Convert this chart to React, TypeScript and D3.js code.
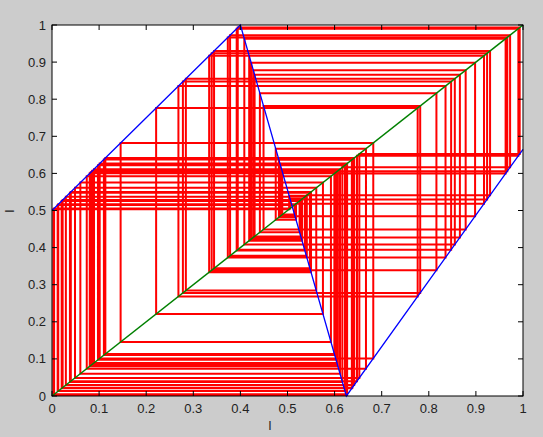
import React from "react";
import * as d3 from "d3";

// piecewise-linear map
const mapX = [0, 0.4, 0.625, 1];
const mapY = [0.5, 1, 0, 0.665];
// diagonal
const diagX = [0, 1];
const diagY = [0, 1];
// cobweb orbit settings
const orbitStart = 0.012;
const orbitSteps = 100;
const ticks = [0, 0.1, 0.2, 0.3, 0.4, 0.5, 0.6, 0.7, 0.8, 0.9, 1];
const tickLabels = ["0", "0.1", "0.2", "0.3", "0.4", "0.5", "0.6", "0.7", "0.8", "0.9", "1"];

const W = 543, H = 437;
const L = 52, R = 523, T = 25, B = 396;

export default function App() {
  React.useEffect(() => {
    document.body.style.margin = "0";
  }, []);
  const x = d3.scaleLinear().domain([0, 1]).range([L, R]);
  const y = d3.scaleLinear().domain([0, 1]).range([B, T]);
  const f = d3.scaleLinear().domain(mapX).range(mapY).clamp(true);

  const pts: [number, number][] = [];
  let cur = orbitStart;
  pts.push([cur, cur]);
  for (let i = 0; i < orbitSteps; i++) {
    const nx = f(cur);
    pts.push([cur, nx]);
    pts.push([nx, nx]);
    cur = nx;
  }
  const line = d3.line<[number, number]>().x((d) => x(d[0])).y((d) => y(d[1]));
  const mapPts = mapX.map((v, i) => [v, mapY[i]] as [number, number]);
  const diagPts = diagX.map((v, i) => [v, diagY[i]] as [number, number]);
  const font = "'Liberation Sans', Arial, sans-serif";
  const tc = "#222222";
  return (
    <svg width={W} height={H} style={{ position: "absolute", left: 0, top: 0, display: "block" }}>
      <rect x={0} y={0} width={W} height={H} fill="#cccccc" />
      <rect x={L} y={T} width={R - L} height={B - T} fill="#ffffff" />
      <path d={line(pts) || ""} fill="none" stroke="#ff0000" strokeWidth={2} />
      <path d={line(diagPts) || ""} fill="none" stroke="#008000" strokeWidth={1.5} />
      <path d={line(mapPts) || ""} fill="none" stroke="#0000ff" strokeWidth={1.3} />
      <rect x={L} y={T} width={R - L} height={B - T} fill="none" stroke="#000" strokeWidth={1} />
      {ticks.map((t, i) => (
        <g key={"x" + i}>
          <line x1={x(t)} x2={x(t)} y1={B} y2={B - 5} stroke="#000" />
          <line x1={x(t)} x2={x(t)} y1={T} y2={T + 5} stroke="#000" />
          <text x={x(t)} y={413} textAnchor="middle" fontFamily={font} fontSize={13} fill={tc}>
            {tickLabels[i]}
          </text>
        </g>
      ))}
      {ticks.map((t, i) => (
        <g key={"y" + i}>
          <line x1={L} x2={L + 5} y1={y(t)} y2={y(t)} stroke="#000" />
          <line x1={R} x2={R - 5} y1={y(t)} y2={y(t)} stroke="#000" />
          <text x={46} y={y(t) + 4.5} textAnchor="end" fontFamily={font} fontSize={13} fill={tc}>
            {tickLabels[i]}
          </text>
        </g>
      ))}
      <text x={270} y={430} textAnchor="middle" fontFamily={font} fontSize={13} fill={tc}>l</text>
      <text x={0} y={0} transform={`translate(14,211) rotate(-90)`} textAnchor="middle" fontFamily={font} fontSize={13} fill={tc}>l</text>
    </svg>
  );
}
